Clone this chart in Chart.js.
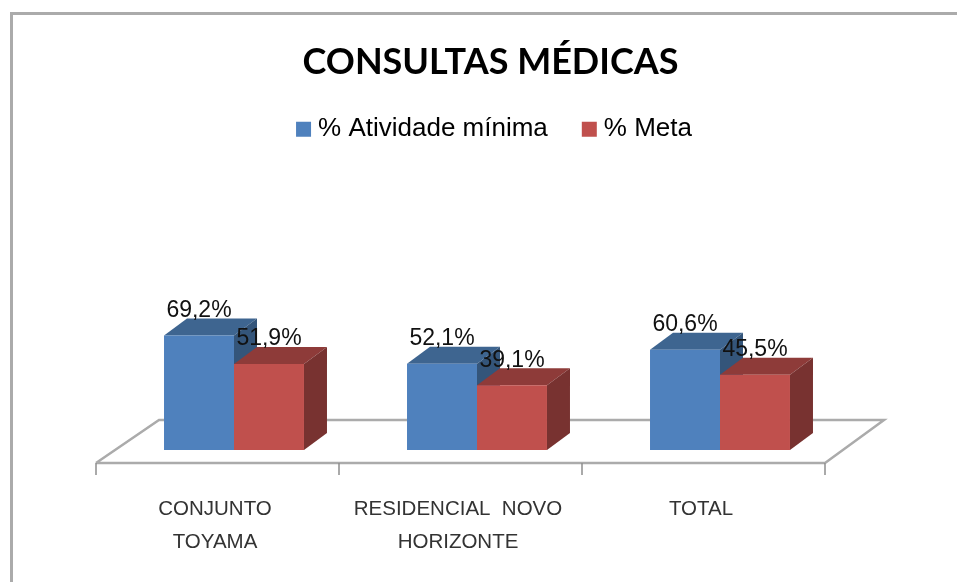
<!DOCTYPE html>
<html><head><meta charset="utf-8">
<style>html,body{margin:0;padding:0;background:#fff}#w{width:957px;height:582px;position:relative}canvas{filter:blur(0.5px)}</style>
<script src="https://cdn.jsdelivr.net/npm/chart.js@4"></script></head>
<body><div id="w"><canvas id="c" width="957" height="582"></canvas></div>
<script>
const categories = [["CONJUNTO","TOYAMA"],["RESIDENCIAL  NOVO","HORIZONTE"],["TOTAL"]];
const seriesNames = ["% Atividade mínima","% Meta"];
const atividade = [69.2,52.1,60.6];
const meta = [51.9,39.1,45.5];
const colors = ["#4F81BD","#C0504D"];
const topColors = ["#3E6590","#8E3B39"];
const sideColors = ["#34557A","#783230"];
const DX=23, DY=-17;
const fmt=v=>v.toFixed(1).replace('.',',')+'%';

const scene={id:'scene',
 afterLayout(ch){
  ch.titleBlock.left+=13.5;ch.titleBlock.right+=13.5;
  ch.legend.left+=20;ch.legend.right+=20;ch.legend.top-=8;ch.legend.bottom-=8;
 },
 beforeDraw(ch){const c=ch.ctx;c.save();
  c.strokeStyle='#ABABAB';c.lineWidth=3;c.beginPath();c.moveTo(957,13.5);c.lineTo(11.5,13.5);c.lineTo(11.5,582);c.stroke();c.restore();},
 beforeDatasetsDraw(ch){const c=ch.ctx,x=ch.scales.x,b=ch.chartArea.bottom,step=(x.right-x.left)/categories.length;
  const fl=x.left-16.5,fr=x.right-16.5,fy=b+13;
  c.save();c.strokeStyle='#ABABAB';c.lineWidth=2.5;c.beginPath();
  c.moveTo(fl,fy);c.lineTo(fr,fy);
  c.moveTo(fl,fy);c.lineTo(fl+63,fy-43);c.lineTo(fr+59,fy-43);c.lineTo(fr,fy);
  c.stroke();
  c.strokeStyle='#8E8E8E';c.lineWidth=1.5;c.beginPath();
  for(let i=0;i<=categories.length;i++){const t=fl+i*step;c.moveTo(t,fy);c.lineTo(t,fy+12);}
  c.stroke();c.restore();
  ch.data.datasets.forEach((d,di)=>{ch.getDatasetMeta(di).data.forEach(r=>{
    const l=r.x-r.width/2,rr=r.x+r.width/2,t=r.y,bo=r.base;
    c.fillStyle=topColors[di];c.beginPath();c.moveTo(l,t);c.lineTo(l+DX,t+DY);c.lineTo(rr+DX,t+DY);c.lineTo(rr,t);c.closePath();c.fill();
    c.fillStyle=sideColors[di];c.beginPath();c.moveTo(rr,t);c.lineTo(rr+DX,t+DY);c.lineTo(rr+DX,bo+DY);c.lineTo(rr,bo);c.closePath();c.fill();
  });});
 },
 afterDatasetsDraw(ch){const c=ch.ctx;c.save();c.fillStyle='#111';c.font='23px "Liberation Sans"';c.textAlign='center';c.textBaseline='middle';
  ch.data.datasets.forEach((d,di)=>{ch.getDatasetMeta(di).data.forEach((r,i)=>{c.fillText(fmt(d.data[i]),r.x,r.y-25);});});c.restore();}
};

new Chart(document.getElementById('c'),{type:'bar',
 data:{labels:categories,datasets:[
  {label:seriesNames[0],data:atividade,backgroundColor:colors[0]},
  {label:seriesNames[1],data:meta,backgroundColor:colors[1]}]},
 plugins:[scene],
 options:{responsive:false,animation:false,
  layout:{padding:{left:112.5,right:115.5,top:41,bottom:20}},
  datasets:{bar:{categoryPercentage:0.576,barPercentage:1}},
  plugins:{
   title:{display:true,text:'CONSULTAS MÉDICAS',color:'#000',font:{family:'Lato',size:36,weight:'bold'},padding:{top:0,bottom:0}},
   legend:{display:true,position:'top',labels:{font:{family:'"Liberation Sans"',size:26},color:'#222',boxWidth:3,boxHeight:3,padding:40,
     generateLabels:ch=>ch.data.datasets.map((d,i)=>({text:d.label,fillStyle:colors[i],strokeStyle:colors[i],lineWidth:12,datasetIndex:i}))}},
   tooltip:{enabled:false}},
  scales:{
   x:{afterFit(s){s.height=112;},grid:{display:false},border:{display:false},ticks:{maxRotation:0,autoSkip:false,color:'#333',padding:35,labelOffset:-19,font:{family:'"Liberation Sans"',size:20.5,lineHeight:1.62}}},
   y:{display:false,min:0,max:175}
  }}});
</script></body></html>
